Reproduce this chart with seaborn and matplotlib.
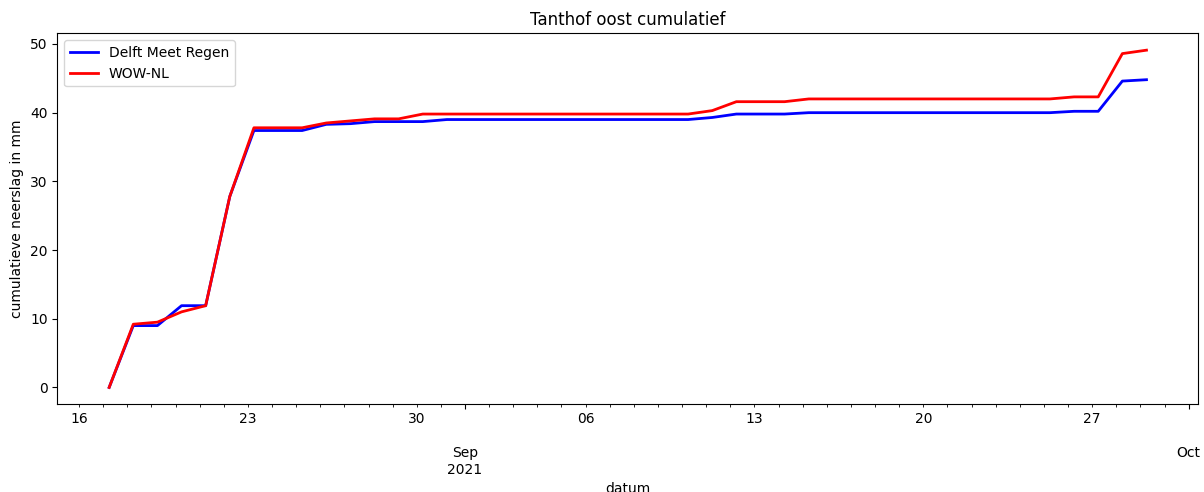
import numpy as np
import pandas as pd
import matplotlib
matplotlib.use("Agg")
import matplotlib.pyplot as plt
import matplotlib.dates as mdates
import matplotlib.ticker as mticker
import seaborn as sns

# Daily cumulative rainfall (mm), one reading per day at 06:00
start = "2021-08-17 06:00"
delft_meet_regen = [
    0.0, 9.0, 9.0, 11.9, 11.9, 27.8, 37.4, 37.4, 37.4, 38.3,
    38.4, 38.7, 38.7, 38.7, 39.0, 39.0, 39.0, 39.0, 39.0, 39.0,
    39.0, 39.0, 39.0, 39.0, 39.0, 39.3, 39.8, 39.8, 39.8, 40.0,
    40.0, 40.0, 40.0, 40.0, 40.0, 40.0, 40.0, 40.0, 40.0, 40.0,
    40.2, 40.2, 44.6, 44.8,
]
wow_nl = [
    0.0, 9.2, 9.5, 11.0, 11.9, 27.8, 37.8, 37.8, 37.8, 38.5,
    38.8, 39.1, 39.1, 39.8, 39.8, 39.8, 39.8, 39.8, 39.8, 39.8,
    39.8, 39.8, 39.8, 39.8, 39.8, 40.3, 41.6, 41.6, 41.6, 42.0,
    42.0, 42.0, 42.0, 42.0, 42.0, 42.0, 42.0, 42.0, 42.0, 42.0,
    42.3, 42.3, 48.6, 49.1,
]
series_names = ["Delft Meet Regen", "WOW-NL"]
series_colors = ["blue", "red"]
month_ticks = ["2021-09-01", "2021-10-01"]
month_labels = ["\n\nSep\n2021", "\n\nOct"]

dates = pd.date_range(start, periods=len(delft_meet_regen), freq="D")
df = pd.DataFrame({
    "datum": np.concatenate([dates, dates]),
    "neerslag": delft_meet_regen + wow_nl,
    "bron": [series_names[0]] * len(dates) + [series_names[1]] * len(dates),
})

fig, ax = plt.subplots(figsize=(12.04, 4.92), dpi=100)
fig.subplots_adjust(left=0.0476, right=0.9953, top=0.9323, bottom=0.1783)

sns.lineplot(data=df, x="datum", y="neerslag", hue="bron",
             palette=dict(zip(series_names, series_colors)),
             linewidth=2, ax=ax)

ax.set_title("Tanthof oost cumulatief")
ax.set_xlabel("datum")
ax.set_ylabel("cumulatieve neerslag in mm")
ax.set_yticks([0, 10, 20, 30, 40, 50])
ax.margins(x=0.05, y=0.05)

# Month ticks as major ticks, days as minor ticks with weekly labels
ax.xaxis.set_major_locator(mticker.FixedLocator(
    [mdates.date2num(pd.Timestamp(d)) for d in month_ticks]))
ax.xaxis.set_major_formatter(mticker.FixedFormatter(month_labels))
ax.xaxis.set_minor_locator(mdates.DayLocator())


def week_label(x, pos=None):
    d = mdates.num2date(x)
    return d.strftime("%d") if d.weekday() == 0 else ""


ax.xaxis.set_minor_formatter(mticker.FuncFormatter(week_label))

leg = ax.legend(loc="upper left", title=None)

fig.savefig("out.png", dpi=100)
